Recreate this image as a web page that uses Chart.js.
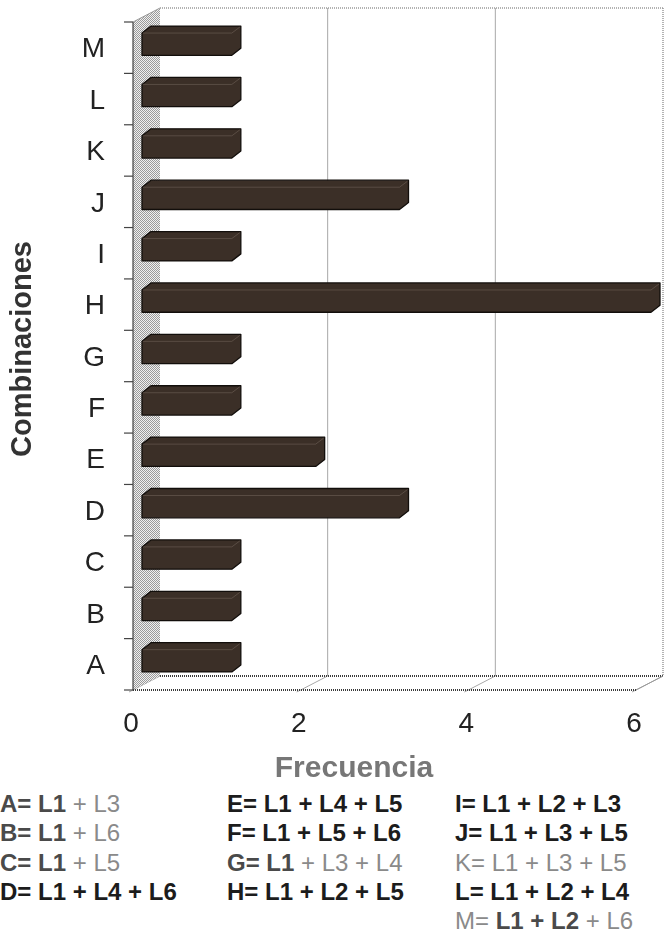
<!DOCTYPE html>
<html>
<head>
<meta charset="utf-8">
<script src="https://cdn.jsdelivr.net/npm/chart.js@4.4.0/dist/chart.umd.min.js"></script>
<style>
  html, body { margin: 0; padding: 0; background: #fff; }
  #wrap { position: relative; width: 665px; height: 934px; overflow: hidden;
          font-family: "Liberation Sans", Arial, sans-serif; }
  #chart { position: absolute; left: 0; top: 0; }
  .key { position: absolute; font-size: 24px; line-height: 24px; white-space: pre; }
  .b { font-weight: bold; }
</style>
</head>
<body>
<div id="wrap">
  <canvas id="chart" width="665" height="790"></canvas>
</div>
<script>
// ---- data ----
const categories   = ['A', 'B', 'C', 'D', 'E', 'F', 'G', 'H', 'I', 'J', 'K', 'L', 'M'];
const frequencies  = [1, 1, 1, 3, 2, 1, 1, 6, 1, 3, 1, 1, 1];
const xTicks       = [0, 2, 4, 6];
const combinations = [
  'L1 + L3', 'L1 + L6', 'L1 + L5', 'L1 + L4 + L6',
  'L1 + L4 + L5', 'L1 + L5 + L6', 'L1 + L3 + L4', 'L1 + L2 + L5',
  'L1 + L2 + L3', 'L1 + L3 + L5', 'L1 + L3 + L5', 'L1 + L2 + L4', 'L1 + L2 + L6'
];
const xTitle = 'Frecuencia';
const yTitle = 'Combinaciones';

// ---- 3D look ----
const DX = -27, DY = 14;          // offset from the back wall to the front edge
const FONT = '"Liberation Sans", Arial, sans-serif';

function halftone(dark, light) {
  const c = document.createElement('canvas');
  c.width = 2; c.height = 2;
  const g = c.getContext('2d');
  g.fillStyle = light; g.fillRect(0, 0, 2, 2);
  g.fillStyle = dark; g.fillRect(0, 0, 1, 1); g.fillRect(1, 1, 1, 1);
  return c;
}

function line(ctx, x1, y1, x2, y2) {
  ctx.beginPath(); ctx.moveTo(x1, y1); ctx.lineTo(x2, y2); ctx.stroke();
}

// fixed axis boxes, no extra room reserved for overhanging labels
function fixBox(size, horizontal) {
  return s => {
    if (horizontal) s.height = size; else s.width = size;
    s.paddingLeft = s.paddingRight = s.paddingTop = s.paddingBottom = 0;
  };
}

const frame3d = {
  id: 'frame3d',
  beforeDatasetsDraw(chart) {
    const { ctx, chartArea: ca, scales: { x } } = chart;
    const bl = ca.left, br = ca.right;
    const bt = ca.top - DY / 2, bb = ca.bottom - DY / 2;
    const fl = bl + DX, ft = bt + DY, fb = bb + DY, fr = br + DX;
    ctx.save();

    // back wall outline (dotted)
    ctx.strokeStyle = '#9a9a9a'; ctx.lineWidth = 1.5; ctx.setLineDash([1, 1]);
    line(ctx, bl, bt, br, bt);
    line(ctx, br, bt, br, bb);
    ctx.setLineDash([]);

    // gridlines on the back wall and their traces on the floor
    ctx.strokeStyle = '#a8a8a8'; ctx.lineWidth = 1;
    xTicks.forEach(v => {
      const px = x.getPixelForValue(v);
      if (v > 0 && v < 6) line(ctx, px, bt, px, bb);
      line(ctx, px, bb, px + DX, fb);
      line(ctx, px + DX, fb, px + DX - 4, fb + 2);
    });

    // side wall
    ctx.fillStyle = ctx.createPattern(halftone('#9a9a9a', '#f0f0f0'), 'repeat');
    ctx.beginPath();
    ctx.moveTo(fl, ft); ctx.lineTo(bl, bt); ctx.lineTo(bl, bb); ctx.lineTo(fl, fb);
    ctx.closePath(); ctx.fill();
    ctx.strokeStyle = '#9a9a9a'; ctx.lineWidth = 1;
    line(ctx, fl, ft, bl, bt);
    ctx.strokeStyle = '#444'; ctx.lineWidth = 1.2;
    line(ctx, fl, ft, fl, fb);

    // category ticks along the front edge
    const step = (ca.bottom - ca.top) / categories.length;
    for (let i = 0; i <= categories.length; i++) {
      const yy = ca.top + i * step + DY / 2;
      line(ctx, fl - 9, yy, fl, yy);
    }

    // floor edges
    ctx.strokeStyle = '#3a3a3a'; ctx.lineWidth = 2; ctx.setLineDash([1, 1]);
    line(ctx, bl, bb, br, bb);
    line(ctx, fl, fb, fr, fb);
    ctx.setLineDash([]);
    ctx.strokeStyle = '#999'; ctx.lineWidth = 1;
    line(ctx, fr, fb, br, bb);
    ctx.restore();
  }
};

const bars3d = {
  id: 'bars3d',
  beforeDatasetDraw() { return false; },
  afterDatasetsDraw(chart) {
    const { ctx } = chart;
    const meta = chart.getDatasetMeta(0);
    const ds = chart.data.datasets[0];
    const cx = 9, cy = 7;                 // chamfer of the bar end faces
    ctx.save();
    ctx.fillStyle = ds.backgroundColor;
    ctx.strokeStyle = ds.borderColor;
    ctx.lineWidth = 1.3;
    ctx.lineJoin = 'round';
    meta.data.forEach(bar => {
      const { x, y, base, height } = bar.getProps(['x', 'y', 'base', 'height'], true);
      const x0 = base - 18, x1 = x - 3;
      const yt = y - height / 2, yb = y + height / 2;
      ctx.beginPath();
      ctx.moveTo(x0, yt + cy);
      ctx.lineTo(x0 + cx, yt);
      ctx.lineTo(x1, yt);
      ctx.lineTo(x1, yb - cy);
      ctx.lineTo(x1 - cx, yb);
      ctx.lineTo(x0, yb);
      ctx.closePath();
      ctx.fill(); ctx.stroke();
      // faint edge where the top face meets the front face
      ctx.save();
      ctx.strokeStyle = 'rgba(120,105,95,0.5)'; ctx.lineWidth = 1;
      line(ctx, x0 + 1, yt + cy, x1 - cx, yt + cy);
      line(ctx, x1 - cx, yt + cy, x1 - 1, yt + 1);
      ctx.restore();
    });
    ctx.restore();
  }
};

const xTitleDraw = {
  id: 'xTitleDraw',
  afterDraw(chart) {
    const { ctx } = chart;
    ctx.save();
    ctx.font = 'bold 30px ' + FONT;
    ctx.fillStyle = '#777';
    ctx.textAlign = 'center';
    ctx.textBaseline = 'middle';
    ctx.fillText(xTitle, 354, 769);
    ctx.restore();
  }
};

new Chart(document.getElementById('chart'), {
  type: 'bar',
  data: {
    labels: categories,
    datasets: [{
      label: xTitle,
      data: frequencies,
      backgroundColor: '#3b2f27',
      borderColor: '#120e0b',
      barPercentage: 0.57,
      categoryPercentage: 1
    }]
  },
  options: {
    indexAxis: 'y',
    responsive: false,
    animation: false,
    layout: { padding: { top: 15, right: 2, left: 0, bottom: 0 } },
    plugins: { legend: { display: false }, tooltip: { enabled: false } },
    scales: {
      x: {
        min: 0, max: 6,
        afterBuildTicks: s => { s.ticks = xTicks.map(v => ({ value: v })); },
        afterFit: fixBox(107, true),
        grid: { display: false },
        border: { display: false },
        ticks: { color: '#222', font: { family: FONT, size: 28 }, padding: 16, labelOffset: -29, maxRotation: 0 }
      },
      y: {
        reverse: true,
        afterFit: fixBox(160, false),
        grid: { display: false },
        border: { display: false },
        ticks: { color: '#222', font: { family: FONT, size: 28 }, padding: 47, labelOffset: 9 },
        title: {
          display: true, text: yTitle, color: '#333',
          font: { family: FONT, size: 29, weight: 'bold' },
          padding: { top: 6, bottom: 0 }
        }
      }
    }
  },
  plugins: [frame3d, bars3d, xTitleDraw]
});

// ---- key of combinations ----
const keyStyle = {
  A: [true, 1, 'mid'],  B: [true, 1, 'mid'],  C: [true, 1, 'mid'],  D: [true, 3, 'dark'],
  E: [true, 3, 'dark'], F: [true, 3, 'dark'], G: [true, 1, 'mid'],  H: [true, 3, 'dark'],
  I: [true, 3, 'dark'], J: [true, 3, 'dark'], K: [false, 0, 'mid'], L: [true, 3, 'dark'],
  M: [false, 2, 'mid']
};
const tones = { dark: '#1c1c1c', mid: '#4a4a4a' };
const lightTone = '#8a8a8a';
const colX = [0, 227, 455];
const rowY = [792, 821, 851, 880, 909];
const wrap = document.getElementById('wrap');
categories.forEach((cat, i) => {
  const col = i < 4 ? 0 : i < 8 ? 1 : 2;
  const row = i < 4 ? i : i < 8 ? i - 4 : i - 8;
  const [leadBold, nBold, tone] = keyStyle[cat];
  const terms = combinations[i].split(' + ');
  const div = document.createElement('div');
  div.className = 'key';
  div.style.left = colX[col] + 'px';
  div.style.top = rowY[row] + 'px';
  const span = (txt, bold) => {
    const s = document.createElement('span');
    s.textContent = txt;
    if (bold) { s.className = 'b'; s.style.color = tones[tone]; }
    else s.style.color = lightTone;
    div.appendChild(s);
  };
  span(cat + '= ', leadBold);
  terms.forEach((t, k) => {
    const bold = k < nBold;
    if (k > 0) span(' + ', bold);
    span(t, bold);
  });
  wrap.appendChild(div);
});
</script>
</body>
</html>
